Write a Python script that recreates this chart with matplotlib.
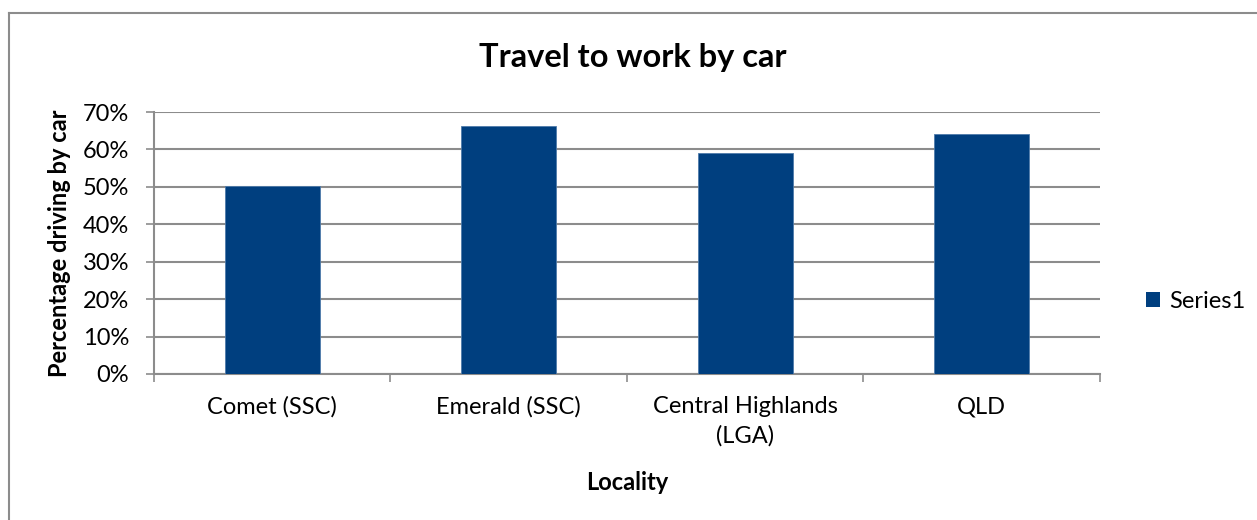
import matplotlib.pyplot as plt
from matplotlib.lines import Line2D
from matplotlib.patches import Patch
from matplotlib.ticker import MultipleLocator, PercentFormatter

localities = ['Comet (SSC)', 'Emerald (SSC)', 'Central Highlands\n(LGA)', 'QLD']
pct_by_car = [50.2, 66.3, 59.0, 64.1]

plt.rcParams['font.family'] = ['Lato', 'DejaVu Sans']

fig = plt.figure(figsize=(12.57, 5.2), dpi=100)
ax = fig.add_axes([0.1225, 0.2808, 0.7526, 0.5038])

bar_color = '#003F7F'
grid_color = '#8C8C8C'

x = range(len(localities))
ax.bar(x, pct_by_car, width=0.4, color=bar_color, edgecolor='#4F7BAA',
       linewidth=0.6, zorder=3, label='Series1')

ax.set_xlim(-0.5, len(localities) - 0.5)
ax.set_ylim(0, 70)
ax.yaxis.set_major_locator(MultipleLocator(10))
ax.yaxis.set_major_formatter(PercentFormatter(decimals=0))
ax.grid(axis='y', color=grid_color, linewidth=1.5, zorder=0)

# category labels sit between the boundary ticks
ax.set_xticks([i - 0.5 for i in range(len(localities) + 1)])
ax.set_xticklabels([])
ax.set_xticks(list(x), minor=True)
ax.set_xticklabels(localities, minor=True, fontsize=17, linespacing=1.45)
ax.tick_params(axis='x', which='minor', length=0, pad=16)
ax.tick_params(axis='x', which='major', length=6, width=1.2, color=grid_color,
               direction='out')
ax.tick_params(axis='y', length=6, width=1.2, color=grid_color, labelsize=17,
               pad=12)

for side in ['top', 'right']:
    ax.spines[side].set_visible(False)
for side in ['left', 'bottom']:
    ax.spines[side].set_color(grid_color)
    ax.spines[side].set_linewidth(1.5)

fig.text(633 / 1257, 1 - 58 / 520, 'Travel to work by car', fontsize=23.5,
         fontweight='bold', ha='center', va='center')
fig.text(60 / 1257, 1 - 243 / 520, 'Percentage driving by car', fontsize=17,
         fontweight='bold', rotation=90, ha='center', va='center')
fig.text(627 / 1257, 1 - 482 / 520, 'Locality', fontsize=17,
         fontweight='bold', ha='center', va='center')

fig.legend(handles=[Patch(facecolor=bar_color, label='Series1')],
           loc='center left', bbox_to_anchor=(1134 / 1257, 1 - 301 / 520),
           frameon=False, fontsize=17, handlelength=0.6, handleheight=0.6,
           handletextpad=0.4, borderpad=0)

# chart area border (left and top edges)
fig.add_artist(Line2D([8.5 / 1257, 8.5 / 1257], [0, 1 - 13 / 520],
                      color='#8C8C8C', linewidth=1.5))
fig.add_artist(Line2D([8.5 / 1257, 1], [1 - 13 / 520, 1 - 13 / 520],
                      color='#8C8C8C', linewidth=1.5))

fig.savefig('out.png', dpi=100)
